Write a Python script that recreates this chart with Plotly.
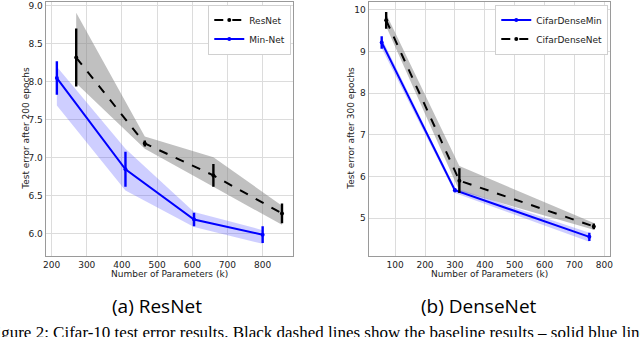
import plotly.graph_objects as go

# ResNet panel
res_x = [270, 465, 660, 855]
res_y = [8.32, 7.19, 6.77, 6.27]
res_err = [0.38, 0.04, 0.15, 0.13]
res_lo = [7.98, 7.12, 6.62, 6.12]
res_hi = [8.91, 7.28, 7.01, 6.37]

min_x = [215, 410, 605, 800]
min_y = [8.05, 6.85, 6.19, 5.99]
min_err = [0.22, 0.23, 0.09, 0.11]
min_lo = [7.69, 6.57, 6.09, 5.87]
min_hi = [8.2, 7.12, 6.29, 6.05]

# DenseNet panel
dmin_x = [55, 300, 750]
dmin_y = [9.22, 5.67, 4.55]
dmin_err = [0.15, 0.05, 0.1]
dmin_lo = [9.08, 5.6, 4.43]
dmin_hi = [9.32, 5.73, 4.65]

dnet_x = [70, 315, 765]
dnet_y = [9.75, 5.9, 4.8]
dnet_err = [0.2, 0.3, 0.07]
dnet_lo = [9.6, 5.65, 4.72]
dnet_hi = [9.9, 6.25, 4.88]

GRAY_BAND = "rgba(130,130,130,0.5)"
BLUE_BAND = "rgba(80,80,255,0.28)"

fig = go.Figure()

def band(x, lo, hi, color, xa, ya):
    fig.add_trace(go.Scatter(x=x, y=lo, mode="lines", line=dict(width=0), showlegend=False,
                             hoverinfo="skip", xaxis=xa, yaxis=ya))
    fig.add_trace(go.Scatter(x=x, y=hi, mode="lines", line=dict(width=0), fill="tonexty",
                             fillcolor=color, showlegend=False, hoverinfo="skip", xaxis=xa, yaxis=ya))

def line(x, y, err, name, color, dash, xa, ya, leg):
    fig.add_trace(go.Scatter(x=x, y=y, name=name, mode="lines+markers",
                             line=dict(color=color, width=2, dash=dash),
                             marker=dict(color=color, size=4),
                             error_y=dict(type="data", array=err, color=color, thickness=2.4, width=0),
                             xaxis=xa, yaxis=ya, legend=leg))

band(res_x, res_lo, res_hi, GRAY_BAND, "x", "y")
band(min_x, min_lo, min_hi, BLUE_BAND, "x", "y")
line(res_x, res_y, res_err, "ResNet", "black", "dash", "x", "y", "legend")
line(min_x, min_y, min_err, "Min-Net", "#0000ff", "solid", "x", "y", "legend")

band(dnet_x, dnet_lo, dnet_hi, GRAY_BAND, "x2", "y2")
band(dmin_x, dmin_lo, dmin_hi, BLUE_BAND, "x2", "y2")
line(dmin_x, dmin_y, dmin_err, "CifarDenseMin", "#0000ff", "solid", "x2", "y2", "legend2")
line(dnet_x, dnet_y, dnet_err, "CifarDenseNet", "black", "dash", "x2", "y2", "legend2")

ax = dict(showgrid=True, gridcolor="#dcdcdc", gridwidth=1, zeroline=False,
          showline=True, linecolor="#9a9a9a", linewidth=1, mirror=True,
          ticks="", tickfont=dict(family="DejaVu Sans", size=9, color="#222"))

leg = dict(font=dict(family="DejaVu Sans", size=9, color="#222"), bgcolor="white",
           bordercolor="#d0d0d0", borderwidth=1, xanchor="right", yanchor="top",
           traceorder="normal", tracegroupgap=0, itemwidth=30)

small = dict(family="DejaVu Sans", size=9, color="#222")

def note(text, x, y, font, angle=0, xanchor="center"):
    return dict(text=text, x=x / 640, y=(256 - y) / 254, xref="paper", yref="paper",
                xanchor=xanchor, yanchor="middle", textangle=angle, showarrow=False, font=font)

fig.update_layout(
    width=640, height=337,
    margin=dict(l=0, r=0, t=2, b=81),
    paper_bgcolor="white", plot_bgcolor="white",
    showlegend=True,
    xaxis=dict(ax, domain=[43/640, 293/640], range=[183, 887], dtick=100),
    yaxis=dict(ax, domain=[0, 1], range=[5.71, 9.05], dtick=0.5, tickformat=".1f"),
    xaxis2=dict(ax, domain=[369/640, 613/640], range=[11, 820], dtick=100, tick0=0),
    yaxis2=dict(ax, domain=[0, 1], range=[4.09, 10.19], dtick=1, anchor="x2"),
    legend=dict(leg, x=291/640, y=0.99),
    legend2=dict(leg, x=611/640, y=0.99),
    annotations=[
        note("Test error after 200 epochs", 23, 128, small, angle=-90),
        note("Test error after 300 epochs", 351, 128, small, angle=-90),
        note("Number of Parameters (k)", 168, 274, small),
        note("Number of Parameters (k)", 491, 274, small),
        note("(a) ResNet", 155, 306, dict(family="Open Sans", size=19, color="black")),
        note("(b) DenseNet", 480, 306, dict(family="Open Sans", size=19, color="black")),
        note("Figure 2: Cifar-10 test error results. Black dashed lines show the baseline results \u2013 solid blue lines",
             -18, 332, dict(family="Liberation Serif", size=17, color="black"), xanchor="left"),
    ],
)

fig.write_html("out.html", config={"displayModeBar": False},
               post_script="document.body.style.margin='0';")
